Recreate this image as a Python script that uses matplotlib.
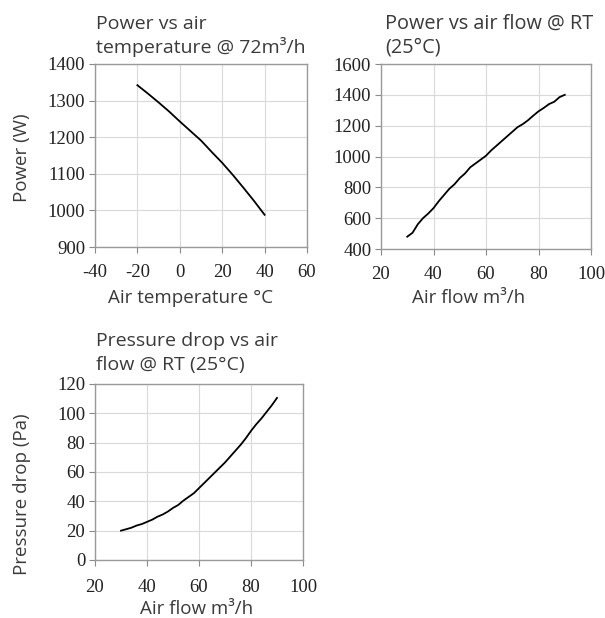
import matplotlib
matplotlib.use("Agg")
import matplotlib.pyplot as plt

plt.rcParams["axes.unicode_minus"] = False

# power vs air temperature @ 72 m3/h
temp_c = [-20, -15, -10, -5, 0, 5, 10, 15, 20, 25, 30, 35, 40]
power_vs_temp = [1342, 1319, 1295, 1270, 1243, 1217, 1191, 1160, 1130, 1097, 1062, 1026, 988]

# power vs air flow @ RT
flow = [30, 32, 34, 36, 38, 40, 42, 44, 46, 48, 50, 52, 54, 56, 58, 60,
        62, 64, 66, 68, 70, 72, 74, 76, 78, 80, 82, 84, 86, 88, 90]
power_vs_flow = [480, 505, 560, 600, 630, 665, 710, 750, 790, 820, 860, 890, 930, 955, 980, 1005,
                 1040, 1070, 1100, 1130, 1160, 1190, 1210, 1235, 1265, 1293, 1315, 1340, 1355, 1385, 1400]

# pressure drop vs air flow @ RT
pressure_drop = [20, 21, 22, 23.5, 24.5, 26, 27.5, 29.5, 31, 33, 35.5, 37.5, 40.5, 43, 45.5, 49,
                 52.5, 56, 59.5, 63, 66.5, 70.5, 74.5, 78.5, 83, 88, 92.5, 96.5, 101, 105.5, 110.5]

W, H = 605, 618
SANS = "Open Sans"
TXT = "#3a3a3a"

fig = plt.figure(figsize=(W / 100, H / 100), dpi=100)


def px_axes(l, t, r, b):
    return fig.add_axes([l / W, 1 - b / H, (r - l) / W, (b - t) / H])


def style(ax, xlim, xticks, ylim, yticks, xpad):
    ax.set_xlim(*xlim); ax.set_xticks(xticks)
    ax.set_ylim(*ylim); ax.set_yticks(yticks)
    ax.grid(True, color="#d9d9d9", lw=0.8)
    ax.set_axisbelow(True)
    for s in ax.spines.values():
        s.set_color("#9a9a9a"); s.set_linewidth(1.0)
    ax.tick_params(direction="out", length=4, width=0.8, color="#8a8a8a",
                   labelsize=13.5, labelcolor="#222222", pad=3)
    ax.tick_params(axis="x", pad=xpad)
    for lab in ax.get_xticklabels() + ax.get_yticklabels():
        lab.set_fontfamily("Liberation Serif")


def ftext(x, y, s, size=13.5, **kw):
    fig.text(x / W, 1 - y / H, s, family=SANS, fontsize=size, color=TXT, **kw)


ax1 = px_axes(95, 64, 307, 247)
ax1.plot(temp_c, power_vs_temp, color="black", lw=1.3)
style(ax1, (-40, 60), range(-40, 61, 20), (900, 1400), range(900, 1401, 100), 8)

ax2 = px_axes(381, 64, 591, 249)
ax2.plot(flow, power_vs_flow, color="black", lw=1.3)
style(ax2, (20, 100), range(20, 101, 20), (400, 1600), range(400, 1601, 200), 8)

ax3 = px_axes(95, 384, 303, 560)
ax3.plot(flow, pressure_drop, color="black", lw=1.3)
style(ax3, (20, 100), range(20, 101, 20), (0, 120), range(0, 121, 20), 10)

# titles, one line at a time (baselines)
ftext(96, 29, "Power vs air", 14, ha="left", va="baseline")
ftext(96, 53, "temperature @ 72m³/h", 14, ha="left", va="baseline")
ftext(385, 29, "Power vs air flow @ RT", 14.3, ha="left", va="baseline")
ftext(385, 53, "(25°C)", 14.3, ha="left", va="baseline")
ftext(96, 346, "Pressure drop vs air", 14, ha="left", va="baseline")
ftext(96, 370, "flow @ RT (25°C)", 14, ha="left", va="baseline")

# axis labels
ftext(191, 298, "Air temperature °C", ha="center", va="center")
ftext(469, 298, "Air flow m³/h", ha="center", va="center")
ftext(197, 609, "Air flow m³/h", ha="center", va="center")
ftext(22, 158, "Power (W)", ha="center", va="center", rotation=90)
ftext(22, 494, "Pressure drop (Pa)", ha="center", va="center", rotation=90)

fig.savefig("out.png", dpi=100)
